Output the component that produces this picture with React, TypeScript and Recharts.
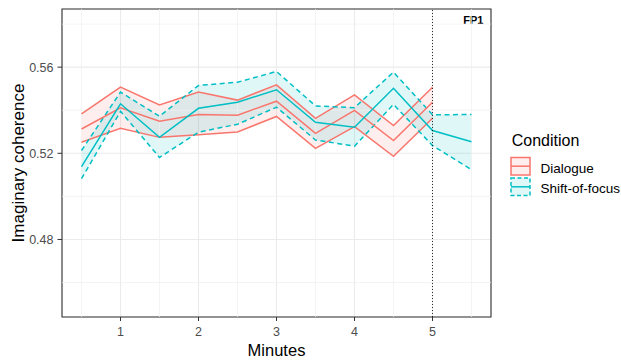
import React from "react";
import {
  ComposedChart,
  Area,
  Line,
  XAxis,
  YAxis,
  CartesianGrid,
  ReferenceLine,
  ReferenceArea,
  Label,
} from "recharts";

const minutes = [0.5, 1, 1.5, 2, 2.5, 3, 3.5, 4, 4.5, 5, 5.5];
const dialogueMean = [0.5313, 0.5411, 0.5349, 0.538, 0.5377, 0.5442, 0.5293, 0.5399, 0.5259, 0.5437, null];
const dialogueUpper = [0.5383, 0.5507, 0.5425, 0.5484, 0.5447, 0.5518, 0.5362, 0.5471, 0.5329, 0.5507, null];
const dialogueLower = [0.5251, 0.5316, 0.5274, 0.5286, 0.5299, 0.5371, 0.5223, 0.5324, 0.5186, 0.5363, null];
const shiftMean = [0.5138, 0.543, 0.5274, 0.5409, 0.5437, 0.5495, 0.5344, 0.5321, 0.5502, 0.5306, 0.5254];
const shiftUpper = [0.5213, 0.5484, 0.5372, 0.5515, 0.553, 0.558, 0.542, 0.5412, 0.5577, 0.5379, 0.538];
const shiftLower = [0.5082, 0.5395, 0.5181, 0.5298, 0.5335, 0.5414, 0.5262, 0.5233, 0.5427, 0.5236, 0.5124];

const xTicks = [1, 2, 3, 4, 5];
const xMinor = [0.5, 1.5, 2.5, 3.5, 4.5, 5.5];
const yTicks = [0.48, 0.52, 0.56];
const yMinor = [0.46, 0.5, 0.54, 0.58];
const conditions = ["Dialogue", "Shift-of-focus"];
const panelLabel = "FP1";

const RED = "#F8766D";
const TEAL = "#00BFC4";
const FONT = "'Liberation Sans', Arial, sans-serif";

const data = minutes.map((m, i) => ({
  minute: m,
  dMean: dialogueMean[i],
  dUpper: dialogueUpper[i],
  dLower: dialogueLower[i],
  dRange: dialogueLower[i] == null ? null : [dialogueLower[i], dialogueUpper[i]],
  sMean: shiftMean[i],
  sUpper: shiftUpper[i],
  sLower: shiftLower[i],
  sRange: [shiftLower[i], shiftUpper[i]],
}));

const DASH = "5 3.5";

function Legend() {
  return (
    <svg width={130} height={90} style={{ position: "absolute", left: 491, top: 120 }}>
      <text x={20.7} y={26} fontFamily={FONT} fontSize={16} fill="#000">Condition</text>
      {/* Dialogue key */}
      <rect x={20} y={37.5} width={19} height={17.5} fill={RED} fillOpacity={0.12} stroke={RED} strokeWidth={1.5} />
      <line x1={20} x2={39} y1={46.2} y2={46.2} stroke={RED} strokeWidth={1.5} />
      <text x={49.5} y={52.5} fontFamily={FONT} fontSize={13.5} fill="#000">{conditions[0]}</text>
      {/* Shift key */}
      <rect x={20} y={58} width={19} height={17.5} fill={TEAL} fillOpacity={0.12} stroke={TEAL} strokeWidth={1.5} strokeDasharray="4 2.5" />
      <line x1={20} x2={39} y1={66.8} y2={66.8} stroke={TEAL} strokeWidth={1.5} />
      <text x={49.5} y={73} fontFamily={FONT} fontSize={13.5} fill="#000">{conditions[1]}</text>
    </svg>
  );
}

export default function App() {
  return (
    <div style={{ position: "absolute", left: 0, top: 0, width: 621, height: 360, background: "#fff" }}>
      <ComposedChart
        width={621}
        height={360}
        data={data}
        margin={{ top: 9, right: 130, bottom: 20, left: 10 }}
      >
        <CartesianGrid stroke="#EBEBEB" strokeWidth={1.1} />
        {xMinor.map((v) => (
          <ReferenceLine key={"xm" + v} x={v} stroke="#EFEFEF" strokeWidth={0.7} />
        ))}
        {yMinor.map((v) => (
          <ReferenceLine key={"ym" + v} y={v} stroke="#EFEFEF" strokeWidth={0.7} />
        ))}
        <XAxis
          type="number"
          dataKey="minute"
          domain={[0.25, 5.75]}
          ticks={xTicks}
          allowDataOverflow
          height={23}
          axisLine={false}
          tickSize={4}
          tickMargin={6}
          tickLine={{ stroke: "#333333", strokeWidth: 1 }}
          tick={{ fill: "#4D4D4D", fontSize: 12.5, fontFamily: FONT }}
        >
          <Label
            content={({ viewBox }: any) => (
              <text
                x={viewBox.x + viewBox.width / 2}
                y={viewBox.y + 39}
                textAnchor="middle"
                fontFamily={FONT}
                fontSize={16.5}
                fill="#000"
              >
                Minutes
              </text>
            )}
          />
        </XAxis>
        <YAxis
          type="number"
          domain={[0.444, 0.587]}
          ticks={yTicks}
          allowDataOverflow
          width={52}
          axisLine={false}
          tickSize={4.5}
          tickMargin={4}
          tickLine={{ stroke: "#333333", strokeWidth: 1 }}
          tick={{ fill: "#4D4D4D", fontSize: 12.5, fontFamily: FONT }}
          tickFormatter={(v: number) => v.toFixed(2)}
        >
          <Label
            content={({ viewBox }: any) => {
              const cx = 24;
              const cy = viewBox.y + viewBox.height / 2;
              return (
                <text
                  x={cx}
                  y={cy}
                  transform={`rotate(-90 ${cx} ${cy})`}
                  textAnchor="middle"
                  fontFamily={FONT}
                  fontSize={17}
                  fill="#000"
                >
                  Imaginary coherence
                </text>
              );
            }}
          />
        </YAxis>

        <Area
          dataKey="dRange"
          stroke="none"
          fill={RED}
          fillOpacity={0.12}
          isAnimationActive={false}
          activeDot={false}
        />
        <Line dataKey="dUpper" stroke={RED} strokeWidth={1.5} dot={false} activeDot={false} isAnimationActive={false} />
        <Line dataKey="dLower" stroke={RED} strokeWidth={1.5} dot={false} activeDot={false} isAnimationActive={false} />
        <Area
          dataKey="sRange"
          stroke="none"
          fill={TEAL}
          fillOpacity={0.12}
          isAnimationActive={false}
          activeDot={false}
        />
        <Line dataKey="sUpper" stroke={TEAL} strokeWidth={1.5} strokeDasharray={DASH} dot={false} activeDot={false} isAnimationActive={false} />
        <Line dataKey="sLower" stroke={TEAL} strokeWidth={1.5} strokeDasharray={DASH} dot={false} activeDot={false} isAnimationActive={false} />
        <Line dataKey="dMean" stroke={RED} strokeWidth={1.5} dot={false} activeDot={false} isAnimationActive={false} />
        <Line dataKey="sMean" stroke={TEAL} strokeWidth={1.5} dot={false} activeDot={false} isAnimationActive={false} />

        <ReferenceLine x={5} stroke="#000" strokeWidth={0.8} strokeDasharray="1 2" />
        <ReferenceArea
          x1={0.25}
          x2={5.75}
          y1={0.444}
          y2={0.587}
          fill="none"
          stroke="#333333"
          strokeWidth={1.1}
          ifOverflow="extendDomain"
        >
          <Label
            content={({ viewBox }: any) => (
              <text
                x={viewBox.x + viewBox.width - 7.5}
                y={viewBox.y + 14.5}
                textAnchor="end"
                fontFamily={FONT}
                fontSize={11}
                fontWeight="bold"
                fill="#000"
              >
                {panelLabel}
              </text>
            )}
          />
        </ReferenceArea>
      </ComposedChart>
      <Legend />
    </div>
  );
}
